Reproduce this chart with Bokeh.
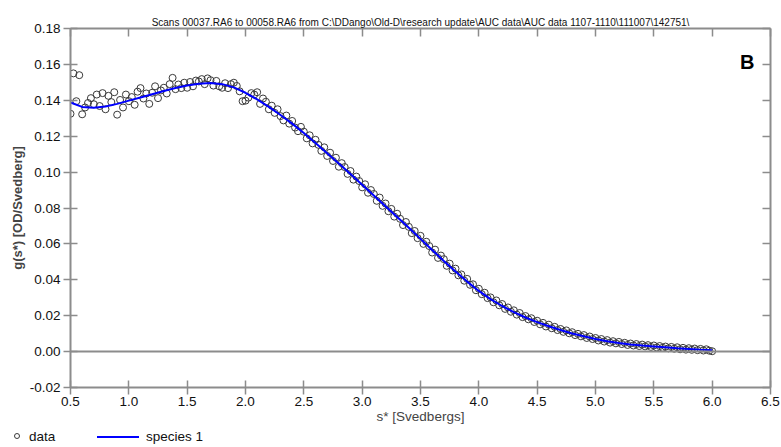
from bokeh.plotting import figure
from bokeh.layouts import column
from bokeh.models import Range1d, LinearAxis, Span, Label, Title, FixedTicker, ColumnDataSource, Div
from bokeh.embed import file_html
from bokeh.resources import INLINE

title_text = "Scans 00037.RA6 to 00058.RA6 from C:\\DDango\\Old-D\\research update\\AUC data\\AUC data 1107-1110\\111007\\142751\\"
x_label = "s* [Svedbergs]"
y_label = "g(s*) [OD/Svedberg]"
panel_label = "B"
legend_labels = ["data", "species 1"]

x_ticks = [0.5, 1.0, 1.5, 2.0, 2.5, 3.0, 3.5, 4.0, 4.5, 5.0, 5.5, 6.0, 6.5]
x_tick_labels = ["0.5", "1.0", "1.5", "2.0", "2.5", "3.0", "3.5", "4.0", "4.5", "5.0", "5.5", "6.0", "6.5"]
y_ticks = [-0.02, 0.0, 0.02, 0.04, 0.06, 0.08, 0.10, 0.12, 0.14, 0.16, 0.18]
y_tick_labels = ["-0.02", "0.00", "0.02", "0.04", "0.06", "0.08", "0.10", "0.12", "0.14", "0.16", "0.18"]

# observed data (s*, g(s*))
data_s = [
    0.500, 0.525, 0.550, 0.575, 0.600, 0.625, 0.650, 0.675, 0.700, 0.725,
    0.750, 0.775, 0.800, 0.825, 0.850, 0.875, 0.900, 0.925, 0.950, 0.975,
    1.000, 1.025, 1.050, 1.075, 1.100, 1.125, 1.150, 1.175, 1.200, 1.225,
    1.250, 1.275, 1.300, 1.325, 1.350, 1.375, 1.400, 1.425, 1.450, 1.475,
    1.500, 1.525, 1.550, 1.575, 1.600, 1.625, 1.650, 1.675, 1.700, 1.725,
    1.750, 1.775, 1.800, 1.825, 1.850, 1.875, 1.900, 1.925, 1.950, 1.975,
    2.000, 2.025, 2.050, 2.075, 2.100, 2.125, 2.150, 2.175, 2.200, 2.225,
    2.250, 2.275, 2.300, 2.325, 2.350, 2.375, 2.400, 2.425, 2.450, 2.475,
    2.500, 2.525, 2.550, 2.575, 2.600, 2.625, 2.650, 2.675, 2.700, 2.725,
    2.750, 2.775, 2.800, 2.825, 2.850, 2.875, 2.900, 2.925, 2.950, 2.975,
    3.000, 3.025, 3.050, 3.075, 3.100, 3.125, 3.150, 3.175, 3.200, 3.225,
    3.250, 3.275, 3.300, 3.325, 3.350, 3.375, 3.400, 3.425, 3.450, 3.475,
    3.500, 3.525, 3.550, 3.575, 3.600, 3.625, 3.650, 3.675, 3.700, 3.725,
    3.750, 3.775, 3.800, 3.825, 3.850, 3.875, 3.900, 3.925, 3.950, 3.975,
    4.000, 4.025, 4.050, 4.075, 4.100, 4.125, 4.150, 4.175, 4.200, 4.225,
    4.250, 4.275, 4.300, 4.325, 4.350, 4.375, 4.400, 4.425, 4.450, 4.475,
    4.500, 4.525, 4.550, 4.575, 4.600, 4.625, 4.650, 4.675, 4.700, 4.725,
    4.750, 4.775, 4.800, 4.825, 4.850, 4.875, 4.900, 4.925, 4.950, 4.975,
    5.000, 5.025, 5.050, 5.075, 5.100, 5.125, 5.150, 5.175, 5.200, 5.225,
    5.250, 5.275, 5.300, 5.325, 5.350, 5.375, 5.400, 5.425, 5.450, 5.475,
    5.500, 5.525, 5.550, 5.575, 5.600, 5.625, 5.650, 5.675, 5.700, 5.725,
    5.750, 5.775, 5.800, 5.825, 5.850, 5.875, 5.900, 5.925, 5.950, 5.975,
    6.000,
]
data_g = [
    0.1325, 0.1550, 0.1395, 0.1540, 0.1322, 0.1360, 0.1385, 0.1412, 0.1378, 0.1432,
    0.1368, 0.1440, 0.1350, 0.1425, 0.1390, 0.1445, 0.1320, 0.1402, 0.1360, 0.1432,
    0.1395, 0.1418, 0.1375, 0.1448, 0.1468, 0.1410, 0.1438, 0.1380, 0.1442, 0.1478,
    0.1412, 0.1455, 0.1470, 0.1438, 0.1490, 0.1525, 0.1462, 0.1488, 0.1468, 0.1498,
    0.1470, 0.1502, 0.1478, 0.1510, 0.1505, 0.1518, 0.1490, 0.1522, 0.1512, 0.1482,
    0.1508, 0.1478, 0.1470, 0.1495, 0.1468, 0.1490, 0.1498, 0.1480, 0.1450, 0.1395,
    0.1398, 0.1415, 0.1440, 0.1432, 0.1445, 0.1380, 0.1410, 0.1392, 0.1350, 0.1370,
    0.1330, 0.1350, 0.1312, 0.1288, 0.1315, 0.1270, 0.1285, 0.1248, 0.1228, 0.1252,
    0.1225, 0.1188, 0.1205, 0.1160, 0.1180, 0.1152, 0.1118, 0.1138, 0.1090, 0.1108,
    0.1062, 0.1080, 0.1030, 0.1050, 0.1028, 0.0990, 0.1006, 0.0958, 0.0975, 0.0950,
    0.0915, 0.0932, 0.0885, 0.0900, 0.0878, 0.0840, 0.0858, 0.0812, 0.0825, 0.0782,
    0.0795, 0.0752, 0.0768, 0.0740, 0.0705, 0.0722, 0.0695, 0.0660, 0.0672, 0.0632,
    0.0645, 0.0600, 0.0612, 0.0588, 0.0552, 0.0568, 0.0522, 0.0535, 0.0515, 0.0478,
    0.0490, 0.0452, 0.0462, 0.0425, 0.0430, 0.0395, 0.0405, 0.0372, 0.0375, 0.0342,
    0.0350, 0.0320, 0.0328, 0.0298, 0.0302, 0.0275, 0.0285, 0.0258, 0.0265, 0.0238,
    0.0246, 0.0222, 0.0230, 0.0206, 0.0215, 0.0192, 0.0198, 0.0180, 0.0186, 0.0165,
    0.0172, 0.0152, 0.0160, 0.0140, 0.0150, 0.0130, 0.0138, 0.0120, 0.0126, 0.0110,
    0.0118, 0.0102, 0.0108, 0.0092, 0.0099, 0.0085, 0.0092, 0.0076, 0.0084, 0.0070,
    0.0076, 0.0062, 0.0070, 0.0056, 0.0064, 0.0050, 0.0058, 0.0046, 0.0054, 0.0042,
    0.0049, 0.0037, 0.0045, 0.0034, 0.0042, 0.0031, 0.0039, 0.0029, 0.0036, 0.0026,
    0.0034, 0.0023, 0.0031, 0.0021, 0.0028, 0.0018, 0.0026, 0.0016, 0.0024, 0.0013,
    0.0021, 0.0011, 0.0019, 0.0010, 0.0017, 0.0008, 0.0015, 0.0006, 0.0013, 0.0005,
    0.0002,
]

# fitted model (species 1)
fit_s = [0.5, 0.6, 0.7, 0.8, 0.9, 1.0, 1.1, 1.2, 1.3, 1.4, 1.5, 1.6, 1.7, 1.8, 1.9,
         2.0, 2.1, 2.2, 2.3, 2.4, 2.5, 2.6, 2.7, 2.8, 2.9, 3.0, 3.1, 3.2, 3.3, 3.4,
         3.5, 3.6, 3.7, 3.8, 3.9, 4.0, 4.1, 4.2, 4.3, 4.4, 4.5, 4.6, 4.7, 4.8, 4.9,
         5.0, 5.1, 5.2, 5.3, 5.4, 5.5, 5.6, 5.7, 5.8, 5.9, 6.0]
fit_g = [0.1388, 0.1363, 0.1358, 0.1365, 0.1380, 0.1398, 0.1416, 0.1434, 0.1452, 0.1468,
         0.1482, 0.1492, 0.1496, 0.1490, 0.1472, 0.1442, 0.1405, 0.1363, 0.1318, 0.1270,
         0.1218, 0.1162, 0.1105, 0.1048, 0.0990, 0.0930, 0.0870, 0.0810, 0.0750, 0.0690,
         0.0628, 0.0566, 0.0505, 0.0446, 0.0390, 0.0338, 0.0292, 0.0254, 0.0220, 0.0190,
         0.0164, 0.0141, 0.0120, 0.0101, 0.0085, 0.0070, 0.0058, 0.0048, 0.0040, 0.0034,
         0.0029, 0.0024, 0.0019, 0.0015, 0.0011, 0.0008]

FONT = "Liberation Sans"
AXIS_GRAY = "#8c8c8c"
DATA_COLOR = "#3a3a3a"
FIT_COLOR = "#0000ff"

p = figure(width=781, height=429, output_backend="svg", toolbar_location=None,
           x_range=Range1d(0.5, 6.5), y_range=Range1d(-0.02, 0.18),
           min_border_left=70, min_border_right=11, min_border_top=28, min_border_bottom=42,
           x_axis_location=None, y_axis_location=None)
p.outline_line_color = None
p.xgrid.visible = False
p.ygrid.visible = False
p.background_fill_color = "white"
p.border_fill_color = "white"


def style_axis(ax, tick_in, tick_out):
    ax.axis_line_color = AXIS_GRAY
    ax.axis_line_width = 2
    ax.major_tick_line_color = AXIS_GRAY
    ax.major_tick_line_width = 1.5
    ax.major_tick_in = tick_in
    ax.major_tick_out = tick_out
    ax.minor_tick_line_color = None
    ax.major_label_text_font = FONT
    ax.major_label_text_color = "#111111"
    ax.major_label_text_font_size = "13.5px"
    ax.major_label_standoff = 2


xb = LinearAxis(ticker=FixedTicker(ticks=x_ticks),
                major_label_overrides={t: l for t, l in zip(x_ticks, x_tick_labels)},
                axis_label=x_label)
style_axis(xb, 7, 7)
xb.axis_label_text_font = FONT
xb.axis_label_text_font_size = "13.5px"
xb.axis_label_text_font_style = "normal"
xb.axis_label_standoff = 0
p.add_layout(xb, "below")

yl = LinearAxis(ticker=FixedTicker(ticks=y_ticks),
                major_label_overrides={t: l for t, l in zip(y_ticks, y_tick_labels)},
                axis_label=y_label)
style_axis(yl, 7, 7)
yl.major_label_standoff = 3
yl.axis_label_text_font = FONT
yl.axis_label_text_font_size = "13px"
yl.axis_label_text_font_style = "bold"
yl.axis_label_standoff = 2
p.add_layout(yl, "left")

xt = LinearAxis(ticker=FixedTicker(ticks=x_ticks),
                major_label_overrides={t: "" for t in x_ticks})
style_axis(xt, 8, 0)
xt.major_label_standoff = 0
p.add_layout(xt, "above")

yr = LinearAxis(ticker=FixedTicker(ticks=y_ticks),
                major_label_overrides={t: "" for t in y_ticks})
style_axis(yr, 8, 0)
yr.major_label_standoff = 0
p.add_layout(yr, "right")

p.add_layout(Span(location=0, dimension="width", line_color=AXIS_GRAY, line_width=2))

src_data = ColumnDataSource(dict(s=data_s, g=data_g))
src_fit = ColumnDataSource(dict(s=fit_s, g=fit_g))

p.scatter("s", "g", source=src_data, marker="circle", size=7,
          fill_color=None, line_color=DATA_COLOR, line_width=1)
p.line("s", "g", source=src_fit, line_color=FIT_COLOR, line_width=2)

p.add_layout(Title(text=title_text, align="center", text_font=FONT,
                   text_font_size="10px", text_font_style="normal",
                   text_color="#111111", standoff=2), "above")

p.add_layout(Label(x=6.3, y=0.1615, text=panel_label, text_font=FONT,
                   text_font_size="20px", text_font_style="bold",
                   text_align="center", text_baseline="middle", text_color="black"))

# legend strip below the chart
legend_html = (
    f'<div style="position:relative;width:781px;height:18px;font-family:\'{FONT}\',Arial,sans-serif;'
    f'font-size:13.5px;color:#111111;line-height:16px;">'
    f'<span style="position:absolute;left:14px;top:4px;width:6px;height:6px;'
    f'border:1px solid {DATA_COLOR};border-radius:50%;"></span>'
    f'<span style="position:absolute;left:29px;top:0px;">{legend_labels[0]}</span>'
    f'<span style="position:absolute;left:97px;top:7px;width:42px;height:2px;'
    f'background:{FIT_COLOR};"></span>'
    f'<span style="position:absolute;left:146px;top:0px;">{legend_labels[1]}</span>'
    f'</div>'
)
leg = Div(text=legend_html, width=781, height=18, margin=0)

layout = column(p, leg, spacing=0)
open("out.html", "w").write(file_html(layout, INLINE))
